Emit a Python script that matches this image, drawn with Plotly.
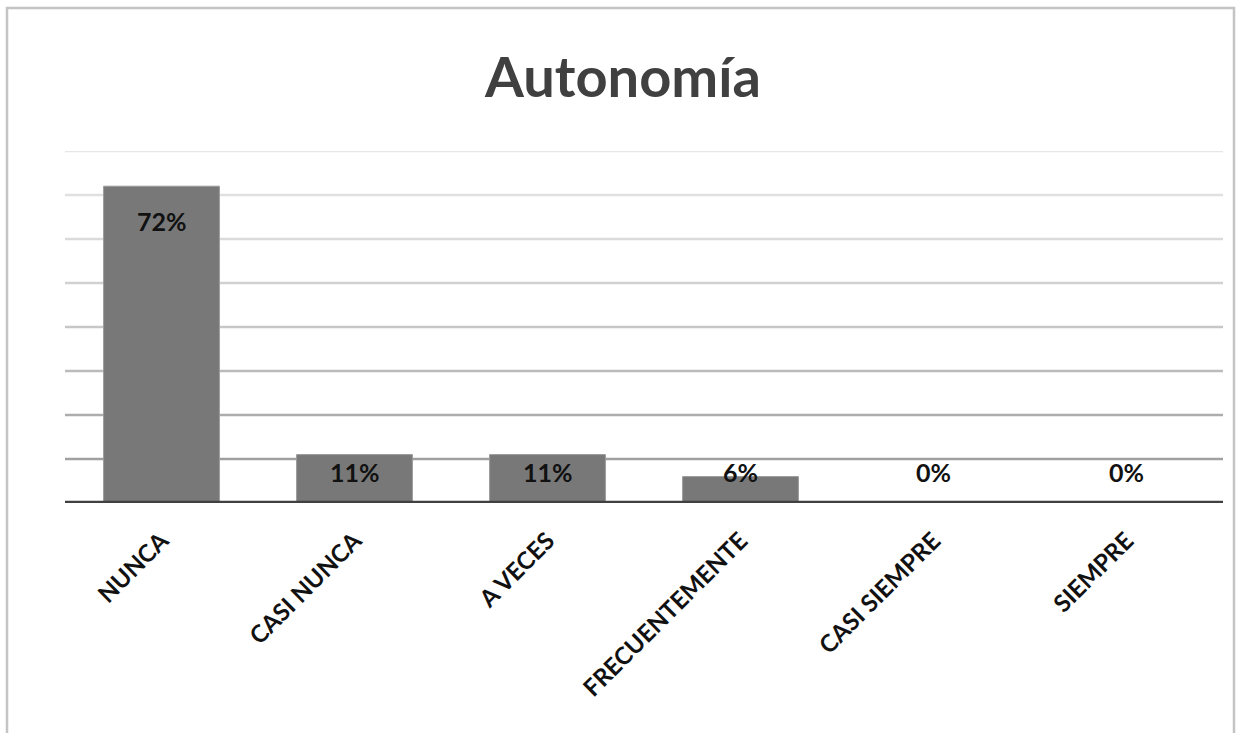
import plotly.graph_objects as go

# Survey responses for "Autonomía"
categories = ["NUNCA", "CASI NUNCA", "A VECES", "FRECUENTEMENTE", "CASI SIEMPRE", "SIEMPRE"]
percentages = [72, 11, 11, 6, 0, 0]
grid_levels = [10, 20, 30, 40, 50, 60, 70, 80]
grid_colors = ["#a0a0a0", "#adadad", "#bbbbbb", "#c7c7c7", "#d1d1d1", "#dadada", "#e0e0e0", "#e6e6e6"]

W, H = 1239, 733
ML, MR, MT, MB = 65, 16, 151, 230
plot_w = W - ML - MR
plot_h = H - MT - MB

fig = go.Figure()
fig.add_trace(go.Bar(
    x=categories,
    y=percentages,
    marker=dict(color="#787878", line=dict(color="#9a9a9a", width=1)),
    width=0.6,
    hoverinfo="skip",
))

shapes = []
# graded horizontal gridlines
for lvl, col in zip(grid_levels, grid_colors):
    shapes.append(dict(type="line", xref="paper", yref="y", x0=0, x1=1, y0=lvl, y1=lvl,
                       line=dict(color=col, width=2.5), layer="below"))
# category axis baseline
shapes.append(dict(type="line", xref="paper", yref="y", x0=0, x1=1, y0=0, y1=0,
                   line=dict(color="#404040", width=4.5), layer="above"))


def px_x(px):
    return (px - ML) / plot_w


def px_y(py):
    return (H - MB - py) / plot_h


# chart frame
shapes.append(dict(type="rect", xref="paper", yref="paper",
                   x0=px_x(7), x1=px_x(1234), y0=px_y(760), y1=px_y(8),
                   line=dict(color="#c4c4c4", width=2.5), fillcolor="rgba(0,0,0,0)"))

annotations = []
for cat, val in zip(categories, percentages):
    if val >= 20:
        y, shift = val, -35
    else:
        y, shift = 0, 31
    annotations.append(dict(x=cat, y=y, yshift=shift, text=f"<b>{val}%</b>", showarrow=False,
                            font=dict(family="Lato", size=25, color="#111111"),
                            xanchor="center", yanchor="middle"))

annotations.append(dict(xref="paper", yref="paper", x=px_x(622), y=px_y(76),
                        text="<b>Autonomía</b>", showarrow=False,
                        font=dict(family="Lato", size=56, color="#404040"),
                        xanchor="center", yanchor="middle"))

fig.update_layout(
    width=W, height=H,
    margin=dict(l=ML, r=MR, t=MT, b=MB),
    paper_bgcolor="white", plot_bgcolor="white",
    showlegend=False,
    shapes=shapes,
    annotations=annotations,
    bargap=0.4,
    xaxis=dict(
        tickangle=-45,
        tickfont=dict(family="Lato", size=24, color="#111111"),
        tickvals=categories,
        ticktext=[f"<b>{c}</b>" for c in categories],
        showgrid=False, zeroline=False, showline=False,
        ticks="", ticklabelstandoff=18,
    ),
    yaxis=dict(range=[0, 80], showgrid=False, zeroline=False, showline=False,
               showticklabels=False, ticks=""),
)

fig.write_html("out.html")
